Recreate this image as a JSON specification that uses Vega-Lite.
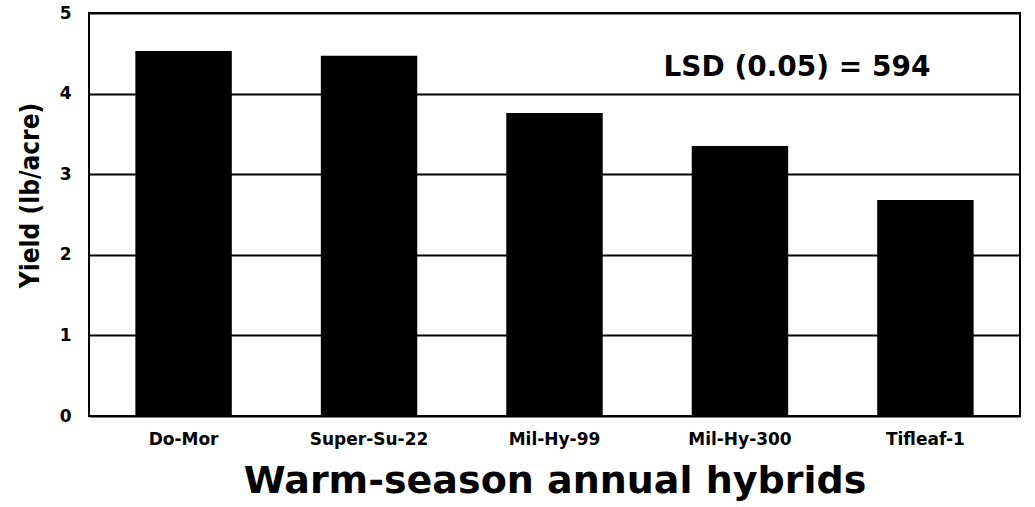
{
  "$schema": "https://vega.github.io/schema/vega-lite/v6.json",
  "width": 931,
  "height": 403,
  "autosize": {"type": "none"},
  "padding": {"left": 89, "top": 13, "right": 15, "bottom": 91},
  "background": "white",
  "config": {
    "view": {"stroke": "black", "strokeWidth": 2},
    "axis": {"domainColor": "black", "gridColor": "black", "gridOpacity": 1, "gridWidth": 2, "ticks": false}
  },
  "layer": [
    {
      "data": {
        "values": [
          {"hybrid": "Do-Mor", "yield": 4.53},
          {"hybrid": "Super-Su-22", "yield": 4.47},
          {"hybrid": "Mil-Hy-99", "yield": 3.76},
          {"hybrid": "Mil-Hy-300", "yield": 3.35},
          {"hybrid": "Tifleaf-1", "yield": 2.68}
        ]
      },
      "mark": {"type": "bar", "color": "black"},
      "encoding": {
        "x": {
          "field": "hybrid",
          "type": "nominal",
          "sort": ["Do-Mor", "Super-Su-22", "Mil-Hy-99", "Mil-Hy-300", "Tifleaf-1"],
          "scale": {"paddingInner": 0.48, "paddingOuter": 0.25},
          "axis": {
            "title": "Warm-season annual hybrids",
            "titleFont": "DejaVu Sans",
            "titleFontWeight": "bold",
            "titleFontSize": 38,
            "titleColor": "black",
            "titlePadding": 15,
            "labelFont": "DejaVu Sans",
            "labelFontWeight": "bold",
            "labelFontSize": 17,
            "labelColor": "black",
            "labelAngle": 0,
            "labelPadding": 15,
            "domain": false
          }
        },
        "y": {
          "field": "yield",
          "type": "quantitative",
          "scale": {"domain": [0, 5]},
          "axis": {
            "title": "Yield (lb/acre)",
            "titleFont": "DejaVu Sans Condensed, Liberation Sans",
            "titleFontWeight": "bold",
            "titleFontSize": 26,
            "titleColor": "black",
            "titlePadding": 16,
            "titleY": 182,
            "values": [0, 1, 2, 3, 4, 5],
            "format": "d",
            "labelFont": "DejaVu Sans",
            "labelFontWeight": "bold",
            "labelFontSize": 17,
            "labelColor": "black",
            "labelPadding": 18,
            "domain": false,
            "grid": true
          }
        }
      }
    },
    {
      "data": {"values": [{"hybrid": "Mil-Hy-300", "y": 4.32, "label": "LSD (0.05) = 594"}]},
      "mark": {"type": "text", "font": "DejaVu Sans", "fontWeight": "bold", "fontSize": 28, "color": "black", "dx": 57, "align": "center", "baseline": "middle"},
      "encoding": {
        "x": {"field": "hybrid", "type": "nominal", "sort": ["Do-Mor", "Super-Su-22", "Mil-Hy-99", "Mil-Hy-300", "Tifleaf-1"]},
        "y": {"field": "y", "type": "quantitative"},
        "text": {"field": "label"}
      }
    }
  ]
}
